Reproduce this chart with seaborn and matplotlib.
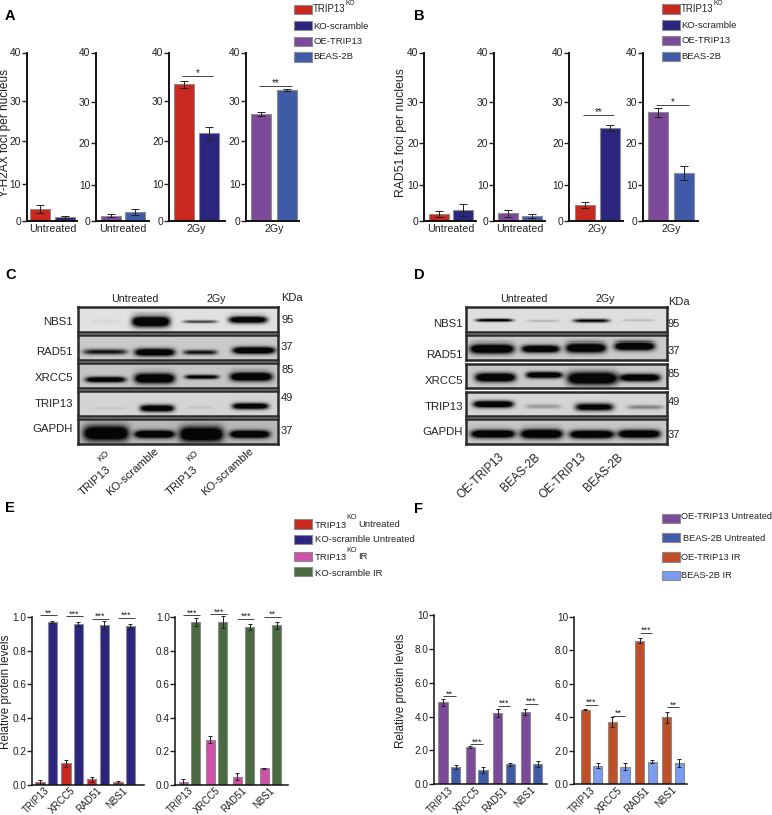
import numpy as np
import pandas as pd
import matplotlib
matplotlib.use('Agg')
import matplotlib.pyplot as plt
from matplotlib.patches import Rectangle
from matplotlib.transforms import ScaledTranslation
import seaborn as sns

W, H = 772, 815
sns.set_theme(style='ticks')
plt.rcParams['font.family'] = ['Liberation Sans', 'DejaVu Sans']
plt.rcParams['text.color'] = '#222222'
plt.rcParams['xtick.color'] = '#222222'
plt.rcParams['ytick.color'] = '#222222'

# colours
RED, NAVY, PURPLE, BLUE = '#c8281f', '#2c2580', '#7d4a9a', '#3f5ba8'
PINK, GREEN, ORANGE, LIGHTBLUE = '#d14fa8', '#4a6b3f', '#c04f28', '#7a9bf0'
EDGE = '#8c8c8c'

# foci per nucleus, mean and error of each pair
foci_ticks = [0, 10, 20, 30, 40]
a_untreated_ko = [3.3, 1.0]
a_untreated_ko_err = [1.1, 0.3]
a_untreated_oe = [1.5, 2.5]
a_untreated_oe_err = [0.5, 0.9]
a_2gy_ko = [33.4, 22.0]
a_2gy_ko_err = [0.7, 1.6]
a_2gy_oe = [26.7, 32.3]
a_2gy_oe_err = [0.5, 0.2]
b_untreated_ko = [2.0, 3.0]
b_untreated_ko_err = [0.9, 1.7]
b_untreated_oe = [2.2, 1.5]
b_untreated_oe_err = [1.0, 0.6]
b_2gy_ko = [4.5, 23.6]
b_2gy_ko_err = [0.75, 0.8]
b_2gy_oe = [27.5, 12.9]
b_2gy_oe_err = [1.1, 1.7]

# where the hand drawn axes of A/B put their ticks (0-1 up the axis)
foci_scale_a = [0, 0.217, 0.474, 0.713, 1]
foci_scale_b = [0, 0.211, 0.464, 0.707, 1]

# relative protein levels
genes = ['TRIP13', 'XRCC5', 'RAD51', 'NBS1']
e_ko_untreated = [0.015, 0.13, 0.035, 0.015]
e_ko_untreated_err = [0.012, 0.02, 0.015, 0.008]
e_scr_untreated = [0.97, 0.96, 0.95, 0.945]
e_scr_untreated_err = [0.008, 0.012, 0.028, 0.015]
e_ko_ir = [0.02, 0.27, 0.05, 0.10]
e_ko_ir_err = [0.014, 0.02, 0.02, 0.004]
e_scr_ir = [0.97, 0.97, 0.94, 0.95]
e_scr_ir_err = [0.022, 0.035, 0.02, 0.02]
f_oe_untreated = [4.85, 2.2, 4.2, 4.28]
f_oe_untreated_err = [0.2, 0.05, 0.22, 0.17]
f_beas_untreated = [1.02, 0.82, 1.18, 1.2]
f_beas_untreated_err = [0.12, 0.18, 0.07, 0.17]
f_oe_ir = [4.45, 3.75, 8.57, 4.0]
f_oe_ir_err = [0.03, 0.3, 0.15, 0.35]
f_beas_ir = [1.12, 1.05, 1.35, 1.27]
f_beas_ir_err = [0.17, 0.22, 0.08, 0.22]

# significance bars
e1_sig = [1.01, 1.005, 0.99, 0.995]
e1_stars = ['**', '***', '***', '***']
e2_sig = [1.01, 1.015, 0.99, 1.0]
e2_stars = ['***', '***', '***', '**']
f1_sig = [5.2, 2.36, 4.63, 4.75]
f1_stars = ['**', '***', '***', '***']
f2_sig = [4.75, 4.1, 9.05, 4.6]
f2_stars = ['***', '**', '***', '**']

# western blots, one row per protein, one column per lane
blot_rows = ['NBS1', 'RAD51', 'XRCC5', 'TRIP13', 'GAPDH']
c_lanes = ['TRIP13', 'KO-scramble', 'TRIP13', 'KO-scramble']
d_lanes = ['OE-TRIP13', 'BEAS-2B', 'OE-TRIP13', 'BEAS-2B']
c_background = [0.88, 0.79, 0.77, 0.83, 0.72]
c_level = [[0.03, 1.0, 0.45, 0.9], [0.6, 0.95, 0.6, 1.0], [0.9, 1.0, 0.75, 1.0],
           [0.04, 0.9, 0.05, 0.9], [1.0, 1.0, 1.0, 1.0]]
c_centre = [[0.14, 0.365, 0.611, 0.85], [0.136, 0.384, 0.611, 0.879], [0.138, 0.383, 0.619, 0.866],
            [0.158, 0.396, 0.611, 0.862], [0.141, 0.383, 0.617, 0.859]]
c_halfwidth = [[0.07, 0.095, 0.085, 0.095], [0.11, 0.10, 0.085, 0.105], [0.10, 0.10, 0.085, 0.105],
               [0.08, 0.085, 0.06, 0.09], [0.113, 0.10, 0.11, 0.10]]
c_ypos = [[0.55, 0.57, 0.57, 0.49], [0.66, 0.68, 0.68, 0.60], [0.65, 0.60, 0.54, 0.53],
          [0.68, 0.68, 0.64, 0.59], [0.57, 0.61, 0.61, 0.61]]
c_thick = [[0.06, 0.17, 0.05, 0.11], [0.09, 0.12, 0.08, 0.11], [0.09, 0.16, 0.07, 0.14],
           [0.05, 0.11, 0.05, 0.10], [0.23, 0.12, 0.23, 0.12]]
d_background = [0.87, 0.79, 0.79, 0.83, 0.78]
d_level = [[0.75, 0.12, 0.65, 0.10], [1.0, 0.95, 1.0, 1.0], [1.0, 0.95, 1.0, 0.95],
           [0.95, 0.18, 0.8, 0.25], [1.0, 1.0, 1.0, 1.0]]
d_centre = [[0.142, 0.386, 0.627, 0.863], [0.13, 0.373, 0.60, 0.843], [0.147, 0.391, 0.632, 0.871],
            [0.137, 0.386, 0.642, 0.896], [0.135, 0.378, 0.629, 0.866]]
d_halfwidth = [[0.092, 0.08, 0.09, 0.08], [0.11, 0.095, 0.10, 0.10], [0.10, 0.09, 0.125, 0.10],
               [0.10, 0.09, 0.095, 0.09], [0.11, 0.105, 0.11, 0.105]]
d_ypos = [[0.51, 0.54, 0.53, 0.51], [0.54, 0.54, 0.50, 0.43], [0.56, 0.46, 0.60, 0.57],
          [0.51, 0.60, 0.63, 0.63], [0.58, 0.58, 0.60, 0.58]]
d_thick = [[0.05, 0.04, 0.06, 0.04], [0.15, 0.12, 0.15, 0.13], [0.14, 0.10, 0.20, 0.12],
           [0.11, 0.07, 0.12, 0.07], [0.13, 0.15, 0.13, 0.13]]

fig = plt.figure(figsize=(W / 100, H / 100), dpi=100)


def ax_px(x0, y0, x1, y1):
    return fig.add_axes([x0 / W, 1 - y1 / H, (x1 - x0) / W, (y1 - y0) / H])


def add_errors(ax, vals, errs, capsize):
    centres = [b.get_x() + b.get_width() / 2 for c in ax.containers for b in c]
    ax.errorbar(centres, vals, yerr=errs, fmt='none', ecolor='#222222', elinewidth=0.7,
                capsize=capsize, capthick=0.7, clip_on=False, zorder=5)
    return centres


def sig_bar(ax, x0, x1, y, stars, size=7):
    ax.plot([x0, x1], [y, y], color='#444444', lw=0.7, clip_on=False, solid_capstyle='butt')
    ax.annotate(stars, xy=((x0 + x1) / 2, y), xytext=(0, -1.5), textcoords='offset points',
                ha='center', va='bottom', fontsize=size, annotation_clip=False)


def foci_panel(spine_x, end_x, centre_x, spacing, label, vals, errs, colors, scale, sig=None):
    ax = ax_px(spine_x, 52.5, end_x, 221)
    unit = spacing / 0.4
    df = pd.DataFrame({'group': [label, label], 'line': ['a', 'b'], 'value': vals})
    sns.barplot(data=df, x='group', y='value', hue='line', palette=colors, ax=ax, legend=False,
                width=0.8, gap=1 - 20 / spacing, edgecolor=EDGE, linewidth=0.8, errorbar=None,
                saturation=1)
    centres = add_errors(ax, vals, errs, 3)
    ax.set_yscale('function', functions=(lambda v: np.interp(v, foci_ticks, scale),
                                         lambda t: np.interp(t, scale, foci_ticks)))
    ax.set_ylim(0, 40)
    ax.set_yticks(foci_ticks)
    ax.minorticks_off()
    ax.set_xlim((spine_x - centre_x) / unit, (end_x - centre_x) / unit)
    ax.set_xlabel('')
    ax.set_ylabel('')
    ax.tick_params(axis='y', labelsize=7.4, length=3.6, width=1, pad=0.5)
    ax.tick_params(axis='x', labelsize=7.7, length=0, pad=2.5)
    sns.despine(ax=ax)
    for s in ['left', 'bottom']:
        ax.spines[s].set_linewidth(1.4)
        ax.spines[s].set_color('#111111')
    if sig:
        sig_bar(ax, centres[0] - 0.03, centres[1] + 0.07, sig[0], sig[1])
    return ax


def group_panel(box, centre0, step, slot, vals, errs, colors, ymax, yticks, ticklabels, sig, stars, extend):
    ax = ax_px(*box)
    df = pd.DataFrame({'gene': genes * 2,
                       'line': ['a'] * 4 + ['b'] * 4,
                       'value': vals[0] + vals[1]})
    sns.barplot(data=df, x='gene', y='value', hue='line', palette=colors, ax=ax, legend=False,
                width=2 * slot / step, gap=1 - 9.3 / slot, edgecolor=EDGE, linewidth=0.8, errorbar=None,
                saturation=1)
    centres = add_errors(ax, vals[0] + vals[1], errs[0] + errs[1], 1.7)
    ax.set_ylim(0, ymax)
    ax.set_yticks(yticks)
    ax.set_yticklabels(ticklabels)
    ax.set_xlim((box[0] - centre0) / step, (box[2] - centre0) / step)
    ax.set_xlabel('')
    ax.set_ylabel('')
    ax.tick_params(axis='y', labelsize=7.2, length=3.4, width=1, pad=0.5)
    ax.tick_params(axis='x', labelsize=6.9, length=0, pad=0.5)
    shift = ScaledTranslation(-1.5 / 100, 0, fig.dpi_scale_trans)
    for lab in ax.get_xticklabels():
        lab.set(rotation=45, ha='right', rotation_mode='anchor')
        lab.set_transform(lab.get_transform() + shift)
    sns.despine(ax=ax)
    for s in ['left', 'bottom']:
        ax.spines[s].set_linewidth(1.1)
        ax.spines[s].set_color('#111111')
    for i in range(4):
        sig_bar(ax, centres[i], centres[i + 4] + extend, sig[i], stars[i], size=6.5)
    return ax


def blot(box, background, level, centre, halfwidth, ypos, thick):
    ax = ax_px(*box)
    cols, rows = int(box[2] - box[0]), int(box[3] - box[1])
    x = (np.arange(cols) + 0.5) / cols
    y = (np.arange(rows) + 0.5) / rows
    xx, yy = np.meshgrid(x, y)
    ink = np.zeros_like(xx)
    for lv, c, hw, yp, t in zip(level, centre, halfwidth, ypos, thick):
        ink += 1.6 * lv * np.exp(-((xx - c) / hw) ** 6) * np.exp(-((yy - yp) / (1.3 * t)) ** 2)
    img = background * (1 - np.clip(ink, 0, 1) * 0.97)
    sns.heatmap(img, ax=ax, cmap='gray', vmin=0, vmax=1, cbar=False,
                xticklabels=False, yticklabels=False, rasterized=True)
    for s in ax.spines.values():
        s.set_visible(True)
        s.set_linewidth(1.8)
        s.set_color('#2a2a2a')
    return ax


# panels A and B
foci_panel(26.7, 77, 52.5, 25, 'Untreated', a_untreated_ko, a_untreated_ko_err, [RED, NAVY], foci_scale_a)
foci_panel(96, 149, 123, 24, 'Untreated', a_untreated_oe, a_untreated_oe_err, [PURPLE, BLUE], foci_scale_b)
foci_panel(169.3, 225, 196.5, 25, '2Gy', a_2gy_ko, a_2gy_ko_err, [RED, NAVY], foci_scale_a, (35.2, '*'))
foci_panel(246, 299, 274, 26, '2Gy', a_2gy_oe, a_2gy_oe_err, [PURPLE, BLUE], foci_scale_a, (33, '**'))
foci_panel(424.3, 475.7, 450.8, 23.6, 'Untreated', b_untreated_ko, b_untreated_ko_err, [RED, NAVY], foci_scale_b)
foci_panel(494, 545, 520, 24, 'Untreated', b_untreated_oe, b_untreated_oe_err, [PURPLE, BLUE], foci_scale_b)
foci_panel(569.3, 623, 597.5, 25, '2Gy', b_2gy_ko, b_2gy_ko_err, [RED, NAVY], foci_scale_b, (26.8, '**'))
foci_panel(643, 698, 671, 26, '2Gy', b_2gy_oe, b_2gy_oe_err, [PURPLE, BLUE], foci_scale_b, (29.3, '*'))

# panels C and D
c_y = [(307.3, 332), (335.3, 360), (363.3, 388), (391.3, 416), (419, 444)]
d_y = [(307.3, 332), (335.3, 360), (363.7, 388), (391.7, 416), (419.3, 444)]
for i in range(5):
    blot((78, c_y[i][0], 278, c_y[i][1]), c_background[i], c_level[i], c_centre[i],
         c_halfwidth[i], c_ypos[i], c_thick[i])
    blot((466, d_y[i][0], 666.5, d_y[i][1]), d_background[i], d_level[i], d_centre[i],
         d_halfwidth[i], d_ypos[i], d_thick[i])

# panels E and F
frac_ticks = [0, 0.2, 0.4, 0.6, 0.8, 1.0]
frac_labels = ['0.0', '0.2', '0.4', '0.6', '0.8', '1.0']
f_ticks = [0, 2, 4, 6, 8, 10]
f_labels = ['0.0', '2.0', '4.0', '6.0', '8.0', '10']
group_panel((32, 617, 144, 785), 46, 26, 12.3, [e_ko_untreated, e_scr_untreated],
            [e_ko_untreated_err, e_scr_untreated_err], [RED, NAVY], 1.0,
            frac_ticks, frac_labels, e1_sig, e1_stars, 0.17)
group_panel((175.3, 617, 287.7, 785), 189.5, 27, 12.5, [e_ko_ir, e_scr_ir],
            [e_ko_ir_err, e_scr_ir_err], [PINK, GREEN], 1.0,
            frac_ticks, frac_labels, e2_sig, e2_stars, 0.17)
group_panel((433.7, 615, 547.3, 784.3), 449.3, 27.4, 12.6, [f_oe_untreated, f_beas_untreated],
            [f_oe_untreated_err, f_beas_untreated_err], [PURPLE, BLUE], 10,
            f_ticks, f_labels, f1_sig, f1_stars, 0)
group_panel((574, 617, 686.7, 784.3), 591.5, 27.2, 12.6, [f_oe_ir, f_beas_ir],
            [f_oe_ir_err, f_beas_ir_err], [ORANGE, LIGHTBLUE], 10,
            f_ticks, f_labels, f2_sig, f2_stars, 0)

# everything placed by hand goes on a pixel overlay
ov = fig.add_axes([0, 0, 1, 1], zorder=10)
ov.set_xlim(0, W)
ov.set_ylim(H, 0)
ov.axis('off')
ov.patch.set_alpha(0)


def txt(x, y, s, size=7, ha='left', va='center', **kw):
    ov.text(x, y, s, fontsize=size, ha=ha, va=va, **kw)


def swatch(x, y0, y1, color):
    ov.add_patch(Rectangle((x, y0), 18, y1 - y0, facecolor=color, edgecolor=EDGE, lw=0.8))


# panel letters
for x, y, s in [(5, 16, 'A'), (414, 16, 'B'), (5, 275, 'C'), (414, 275, 'D'), (5, 508, 'E'), (414, 509, 'F')]:
    txt(x, y, s, size=10.5, weight='bold', color='black')

# y labels
txt(5.5, 133, 'Y-H2AX foci per nucleus', size=8.6, ha='center', rotation=90)
txt(400.7, 133, 'RAD51 foci per nucleus', size=8.8, ha='center', rotation=90)
txt(6.5, 692, 'Relative protein levels', size=8.4, ha='center', rotation=90)
txt(400.7, 691, 'Relative protein levels', size=8.4, ha='center', rotation=90)

# legends A and B
for x0, text_x, top in [(293.7, 313, [5, 21, 36.7, 52.3]), (662, 681, [4.3, 20.3, 36, 51.7])]:
    for y, c in zip(top, [RED, NAVY, PURPLE, BLUE]):
        swatch(x0, y, y + 9.3, c)
    txt(text_x, top[0] + 4.5, 'TRIP13', size=6.9)
    txt(text_x + 33 if x0 < 400 else text_x + 32, 3.5, 'KO', size=4.8)
    txt(text_x, top[1] + 5.5, 'KO-scramble', size=6.8)
    txt(text_x, top[2] + 4.5, 'OE-TRIP13', size=6.8)
    txt(text_x, top[3] + 4.5, 'BEAS-2B', size=6.8)

# legend E
for y, c in zip([519.3, 535, 551.7, 567], [RED, NAVY, PINK, GREEN]):
    swatch(293.7, y, y + 9.3, c)
txt(315, 525, 'TRIP13', size=6.8)
txt(346, 517.5, 'KO', size=5.2)
txt(358, 524.5, 'Untreated', size=6.8)
txt(315, 540, 'KO-scramble Untreated', size=6.8)
txt(315, 557, 'TRIP13', size=6.8)
txt(346, 550, 'KO', size=5.2)
txt(358, 556.5, 'IR', size=6.8)
txt(315, 573, 'KO-scramble IR', size=6.8)

# legend F
for y, c in zip([514, 533, 552.3, 570.7], [PURPLE, BLUE, ORANGE, LIGHTBLUE]):
    swatch(662, y, y + 9.3, c)
txt(681, 516.7, 'OE-TRIP13 Untreated', size=6.7)
txt(682.7, 538.7, 'BEAS-2B Untreated', size=6.7)
txt(681, 557.3, 'OE-TRIP13 IR', size=6.7)
txt(681, 575.3, 'BEAS-2B IR', size=6.7)

# blot labels C
txt(135, 298.7, 'Untreated', size=7.7, ha='center')
txt(216.7, 298.7, '2Gy', size=7.7, ha='center')
txt(280.7, 298, 'KDa', size=8)
for y, s in zip([322, 352, 378, 404, 429], blot_rows):
    txt(73, y, s, size=8.2, ha='right')
for y, s in zip([320, 347, 370, 398, 431], ['95', '37', '85', '49', '37']):
    txt(281, y, s, size=8)
for x, y, s in zip([109, 157, 196, 252], [468, 450, 468, 450], c_lanes):
    ov.text(x, y, s, fontsize=8.2, rotation=42, ha='right', va='center', rotation_mode='anchor')
txt(103, 456, 'KO', size=6.2, ha='center', rotation=42)
txt(192, 456, 'KO', size=6.2, ha='center', rotation=42)

# blot labels D
txt(524, 299, 'Untreated', size=7.7, ha='center')
txt(605, 299, '2Gy', size=7.7, ha='center')
txt(668, 302, 'KDa', size=8)
for y, s in zip([324, 355, 381, 407, 432], blot_rows):
    txt(463, y, s, size=8.2, ha='right')
for y, s in zip([324, 351, 374, 402, 435], ['95', '37', '85', '49', '37']):
    txt(668, y, s, size=8)
for x, y, s in zip([503, 538, 585, 621], [455, 456, 455, 456], d_lanes):
    ov.text(x, y, s, fontsize=8.4, rotation=44, ha='right', va='center', rotation_mode='anchor')

fig.savefig('out.png', dpi=100)
